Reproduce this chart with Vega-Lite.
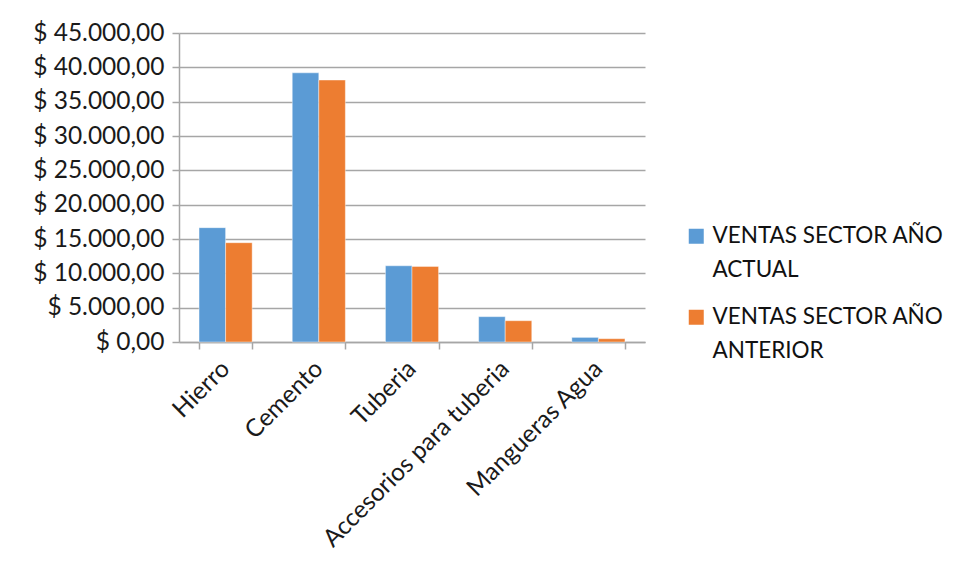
{
  "$schema": "https://vega.github.io/schema/vega-lite/v6.json",
  "width": 466,
  "height": 309,
  "autosize": {"type": "none"},
  "padding": {"left": 179, "top": 33, "right": 314, "bottom": 236},
  "background": "white",
  "config": {
    "font": "Lato",
    "view": {"stroke": null},
    "style": {"guide-label": {"lineHeight": 34}},
    "axis": {"labelFont": "Lato", "labelFontSize": 24.5, "labelColor": "#1a1a1a"},
    "legend": {"labelFont": "Lato", "labelFontSize": 22.5, "labelColor": "#111111"}
  },
  "data": {
    "values": [
      {"categoria": "Hierro", "serie": "VENTAS SECTOR AÑO ACTUAL", "ventas": 16650},
      {"categoria": "Hierro", "serie": "VENTAS SECTOR AÑO ANTERIOR", "ventas": 14460},
      {"categoria": "Cemento", "serie": "VENTAS SECTOR AÑO ACTUAL", "ventas": 39200},
      {"categoria": "Cemento", "serie": "VENTAS SECTOR AÑO ANTERIOR", "ventas": 38150},
      {"categoria": "Tuberia", "serie": "VENTAS SECTOR AÑO ACTUAL", "ventas": 11100},
      {"categoria": "Tuberia", "serie": "VENTAS SECTOR AÑO ANTERIOR", "ventas": 11010},
      {"categoria": "Accesorios para tuberia", "serie": "VENTAS SECTOR AÑO ACTUAL", "ventas": 3690},
      {"categoria": "Accesorios para tuberia", "serie": "VENTAS SECTOR AÑO ANTERIOR", "ventas": 3100},
      {"categoria": "Mangueras Agua", "serie": "VENTAS SECTOR AÑO ACTUAL", "ventas": 670},
      {"categoria": "Mangueras Agua", "serie": "VENTAS SECTOR AÑO ANTERIOR", "ventas": 480}
    ]
  },
  "mark": {"type": "bar", "stroke": "white", "strokeWidth": 0.6, "strokeOpacity": 0.7},
  "encoding": {
    "x": {
      "field": "categoria",
      "type": "nominal",
      "sort": null,
      "title": null,
      "scale": {"paddingInner": 0.43, "paddingOuter": 0.215},
      "axis": {
        "labelAngle": -45,
        "labelAlign": "right",
        "labelBaseline": "middle",
        "labelPadding": 16,
        "labelLimit": 400,
        "tickBand": "extent",
        "tickSize": 7,
        "tickColor": "#a6a6a6",
        "domainColor": "#a6a6a6",
        "domainWidth": 1.5,
        "tickWidth": 1.5,
        "grid": false
      }
    },
    "xOffset": {"field": "serie", "type": "nominal", "scale": {"paddingInner": 0, "paddingOuter": 0}},
    "y": {
      "field": "ventas",
      "type": "quantitative",
      "title": null,
      "scale": {"domain": [0, 45000], "nice": false},
      "axis": {
        "values": [0, 5000, 10000, 15000, 20000, 25000, 30000, 35000, 40000, 45000],
        "labelExpr": "'$ ' + replace(replace(replace(format(datum.value, ',.2f'), ',', '_'), '.', ','), '_', '.')",
        "labelPadding": 8,
        "tickSize": 7,
        "tickColor": "#a6a6a6",
        "tickWidth": 1.5,
        "domainColor": "#a6a6a6",
        "domainWidth": 1.5,
        "gridColor": "#a6a6a6",
        "gridWidth": 1.5
      }
    },
    "color": {
      "field": "serie",
      "type": "nominal",
      "title": null,
      "scale": {"range": ["#5B9BD5", "#ED7D31"]},
      "legend": {
        "orient": "none",
        "legendX": 506,
        "legendY": 192,
        "symbolType": "square",
        "symbolSize": 225,
        "symbolStrokeWidth": 0,
        "labelOffset": 5,
        "rowPadding": 24,
        "labelLimit": 400,
        "labelBaseline": "middle",
        "labelExpr": "[slice(datum.label, 0, 17), slice(datum.label, 18)]"
      }
    }
  }
}
